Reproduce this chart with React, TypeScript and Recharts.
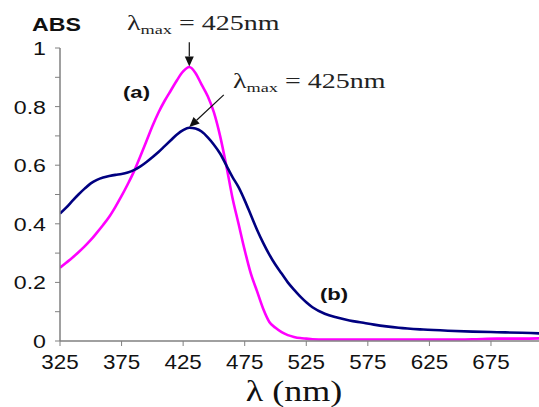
import React from "react";
import { LineChart, Line, XAxis, YAxis, ReferenceLine } from "recharts";

const wavelengths = [325,330,335,340,345,350,355,360,365,370,375,380,385,390,395,400,405,410,415,420,425,430,435,440,445,450,455,460,465,470,475,480,485,490,495,500,505,510,515,520,525,530,540,550,560,570,580,590,600,620,640,660,680,700,715];

const seriesA = [0.25,0.267,0.284,0.303,0.323,0.345,0.37,0.396,0.424,0.458,0.495,0.535,0.578,0.628,0.68,0.733,0.78,0.82,0.855,0.89,0.92,0.935,0.915,0.875,0.835,0.78,0.70,0.60,0.49,0.40,0.31,0.23,0.17,0.11,0.065,0.045,0.03,0.02,0.014,0.01,0.008,0.006,0.005,0.005,0.005,0.005,0.005,0.005,0.005,0.005,0.005,0.006,0.008,0.008,0.009];

const seriesB = [0.435,0.455,0.478,0.50,0.52,0.538,0.55,0.558,0.563,0.567,0.57,0.575,0.583,0.595,0.61,0.627,0.645,0.665,0.685,0.705,0.72,0.728,0.725,0.715,0.695,0.67,0.64,0.60,0.56,0.525,0.48,0.43,0.38,0.335,0.295,0.26,0.23,0.20,0.175,0.152,0.132,0.115,0.093,0.08,0.07,0.063,0.056,0.05,0.045,0.039,0.035,0.032,0.03,0.028,0.026];

const xTicks = [325,375,425,475,525,575,625,675];
const yTicks = [0,0.1,0.2,0.3,0.4,0.5,0.6,0.7,0.8,0.9,1];
const yTickLabels = ["0","","0.2","","0.4","","0.6","","0.8","","1"];

const data = wavelengths.map((wl, i) => ({ wl, a: seriesA[i], b: seriesB[i] }));

const AXIS = "#808080";
const SANS = "'Liberation Sans', Arial, sans-serif";
const SERIF = "'Liberation Serif', 'Times New Roman', serif";

const XTick = (p: any) => {
  const { x, y, payload } = p;
  return (
    <g transform={`translate(${x},${y})`}>
      <text transform="scale(1.12,1)" textAnchor="middle" y={23} fontFamily={SANS} fontSize={20} fill="#111">
        {payload.value}
      </text>
    </g>
  );
};

const YTick = (p: any) => {
  const { x, y, payload } = p;
  const idx = yTicks.indexOf(payload.value);
  const label = idx >= 0 ? yTickLabels[idx] : "";
  return (
    <g transform={`translate(${x - 9},${y})`}>
      <text transform="scale(1.22,1)" textAnchor="end" y={7} fontFamily={SANS} fontSize={19} fill="#111">
        {label}
      </text>
    </g>
  );
};

const Arrow = (p: any) => {
  const { x1, y1, x2, y2 } = p;
  const ang = Math.atan2(y2 - y1, x2 - x1);
  const L = 10, W = 4.5;
  const bx = x2 - L * Math.cos(ang);
  const by = y2 - L * Math.sin(ang);
  const px = -Math.sin(ang), py = Math.cos(ang);
  const pts = `${x2},${y2} ${bx + W * px},${by + W * py} ${bx - W * px},${by - W * py}`;
  return (
    <g>
      <line x1={x1} y1={y1} x2={bx} y2={by} stroke="#111" strokeWidth={1.2} />
      <polygon points={pts} fill="#111" />
    </g>
  );
};

const LambdaLabel = ({ x, y }: { x: number; y: number }) => (
  <g transform={`translate(${x},${y}) scale(1.4,1)`}>
    <text x={0} y={0} fontFamily={SERIF} fontSize={20} fill="#222">
      <tspan>λ</tspan>
      <tspan fontSize={13} dy={4}>max</tspan>
      <tspan dy={-4}> = 425nm</tspan>
    </text>
  </g>
);

export default function App() {
  return (
    <div style={{ position: "absolute", left: 0, top: 0, width: 539, height: 407, background: "#fff" }}>
      <LineChart width={539} height={407} data={data} margin={{ top: 48, right: 0, left: 0, bottom: 36 }}>
        <XAxis
          dataKey="wl"
          type="number"
          domain={[325, 714]}
          ticks={xTicks}
          allowDataOverflow
          height={30}
          stroke={AXIS}
          tickSize={5}
          tickMargin={0}
          tick={<XTick />}
          tickLine={{ stroke: AXIS }}
          axisLine={{ stroke: AXIS, strokeWidth: 1.5 }}
        />
        <YAxis
          type="number"
          domain={[0, 1]}
          ticks={yTicks}
          width={60}
          stroke={AXIS}
          tickSize={5}
          tickMargin={0}
          interval={0}
          tick={<YTick />}
          tickLine={{ stroke: AXIS }}
          axisLine={{ stroke: AXIS, strokeWidth: 1.5 }}
        />
        <Line type="monotone" dataKey="a" stroke="#FF00FF" strokeWidth={2.6} dot={false} isAnimationActive={false} />
        <Line type="monotone" dataKey="b" stroke="#000080" strokeWidth={2.6} dot={false} isAnimationActive={false} />
        <ReferenceLine segment={[{ x: 430, y: 1.02 }, { x: 430, y: 0.937 }]} ifOverflow="visible" shape={<Arrow />} />
        <ReferenceLine segment={[{ x: 458, y: 0.84 }, { x: 430, y: 0.73 }]} ifOverflow="visible" shape={<Arrow />} />
        <g transform="translate(32,31) scale(1.22,1)">
          <text fontFamily={SANS} fontWeight="bold" fontSize={19} fill="#111">ABS</text>
        </g>
        <g transform="translate(123,98) scale(1.3,1)">
          <text fontFamily={SANS} fontWeight="bold" fontSize={17} fill="#111">(a)</text>
        </g>
        <g transform="translate(320,300) scale(1.3,1)">
          <text fontFamily={SANS} fontWeight="bold" fontSize={17} fill="#111">(b)</text>
        </g>
        <LambdaLabel x={127} y={30} />
        <LambdaLabel x={233} y={88} />
        <g transform="translate(294,401) scale(1.2,1)">
          <text textAnchor="middle" fontFamily={SERIF} fontSize={30} fill="#111">λ (nm)</text>
        </g>
      </LineChart>
    </div>
  );
}
